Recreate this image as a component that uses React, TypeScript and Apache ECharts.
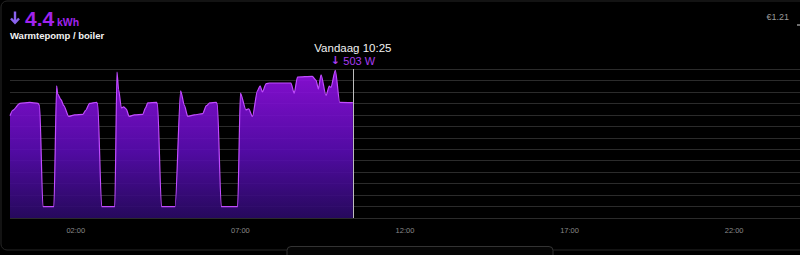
import React, { useEffect, useRef } from "react";
import * as echarts from "echarts";

// time in minutes since midnight
const times = [0, 5, 18, 36, 51, 54, 60, 80, 85, 87, 93, 98, 107, 118, 133, 138, 145, 158, 160, 167, 191, 195, 198, 203, 207, 212, 217, 227, 242, 247, 251, 267, 269, 276, 301, 311, 318, 324, 336, 351, 358, 364, 376, 378, 385, 415, 420, 430, 435, 442, 451, 456, 460, 467, 473, 512, 518, 524, 551, 558, 562, 567, 576, 582, 585, 593, 601, 625];
// power in W
const values = [446, 470, 500, 504, 500, 490, 50, 50, 577, 540, 516, 490, 443, 450, 452, 470, 500, 505, 495, 50, 50, 637, 560, 480, 485, 475, 443, 450, 452, 480, 502, 504, 495, 50, 50, 555, 490, 443, 450, 455, 490, 502, 505, 495, 50, 50, 545, 472, 476, 443, 555, 577, 550, 586, 589, 589, 545, 615, 618, 600, 563, 625, 534, 575, 570, 644, 504, 503];
const xTickLabels = [120, 420, 720, 1020, 1320];

const totalLabel = "4.4";
const unitLabel = "kWh";
const titleLabel = "Warmtepomp / boiler";
const costLabel = "€1.21";
const markerTime = 625;
const markerTitle = "Vandaag 10:25";
const markerValue = "503 W";

const fmt = (m: number) => {
  const h = Math.floor(m / 60);
  const mm = m % 60;
  return String(h).padStart(2, "0") + ":" + String(mm).padStart(2, "0");
};

export default function App() {
  const ref = useRef<HTMLDivElement>(null);
  useEffect(() => {
    const chart = echarts.init(ref.current!, null, { renderer: "svg" });
    const font = "'Liberation Sans', Arial, sans-serif";
    chart.setOption({
      animation: false,
      backgroundColor: "#000",
      grid: { left: 10, top: 69, width: 792, height: 149 },
      xAxis: {
        type: "value",
        min: 0,
        max: 1440,
        axisLine: { show: false },
        axisTick: { show: false },
        splitLine: { show: false },
        axisLabel: {
          customValues: xTickLabels,
          formatter: (v: number) => fmt(v),
          color: "#8a8a8a",
          fontSize: 7.5,
          fontFamily: font,
          margin: 8,
        },
      },
      yAxis: {
        type: "value",
        min: 0,
        max: 650,
        interval: 50,
        axisLabel: { show: false },
        axisLine: { show: false },
        axisTick: { show: false },
        splitLine: { lineStyle: { color: "#2b2b2b", width: 1 } },
      },
      series: [
        {
          type: "line",
          data: times.map((t, i) => [t, values[i]]),
          showSymbol: false,
          smooth: 0.25,
          smoothMonotone: "x",
          lineStyle: { color: "#c14cff", width: 1.2 },
          areaStyle: {
            opacity: 0.9,
            color: new echarts.graphic.LinearGradient(0, 0, 0, 1, [
              { offset: 0, color: "#9410e6" },
              { offset: 0.55, color: "#5a0cb4" },
              { offset: 1, color: "#2a0a66" },
            ]),
          },
          markLine: {
            silent: true,
            symbol: "none",
            lineStyle: { color: "#bdbdbd", type: "solid", width: 1 },
            data: [{ xAxis: markerTime }],
            label: {
              show: true,
              position: "end",
              distance: 2,
              formatter: "{a|" + markerTitle + "}\n{c|↓} {b|" + markerValue + "}",
              rich: {
                a: { color: "#f2f2f2", fontSize: 11.5, fontFamily: font, lineHeight: 13 },
                b: { color: "#a93cf0", fontSize: 11, fontFamily: font, lineHeight: 13 },
                c: { color: "#a93cf0", fontSize: 11, fontWeight: "bold", fontFamily: "'DejaVu Sans', sans-serif", lineHeight: 13 },
              },
            },
          },
        },
      ],
      graphic: [
        {
          type: "rect",
          shape: { x: 1, y: 1, width: 815, height: 249, r: 6 },
          style: { fill: "none", stroke: "#262626", lineWidth: 1 },
          silent: true,
        },
        {
          type: "rect",
          shape: { x: 287, y: 246.5, width: 266, height: 20, r: 4 },
          style: { fill: "#050505", stroke: "#333", lineWidth: 1 },
          silent: true,
        },
        {
          type: "polyline",
          shape: { points: [[15, 11.5], [15, 22.5]] },
          style: { stroke: "#8a63ee", lineWidth: 2.4, fill: "none" },
        },
        {
          type: "polyline",
          shape: { points: [[11, 18.5], [15, 22.8], [19, 18.5]] },
          style: { stroke: "#8a63ee", lineWidth: 2.4, fill: "none", lineJoin: "miter" },
        },
        {
          type: "text",
          x: 25,
          y: 29,
          style: { text: totalLabel, fill: "#a023ee", font: "bold 21px " + font, verticalAlign: "bottom" },
        },
        {
          type: "text",
          x: 57,
          y: 27.5,
          style: { text: unitLabel, fill: "#a023ee", font: "bold 10.5px " + font, verticalAlign: "bottom" },
        },
        {
          type: "text",
          x: 10,
          y: 35,
          style: { text: titleLabel, fill: "#f2f2f2", font: "bold 9.5px " + font, verticalAlign: "middle" },
        },
        {
          type: "text",
          x: 789,
          y: 17,
          style: { text: costLabel, fill: "#9a9a9a", font: "9px " + font, align: "right", verticalAlign: "middle" },
        },
        {
          type: "rect",
          shape: { x: 797, y: 24.5, width: 3, height: 1 },
          style: { fill: "#dddddd" },
        },
      ],
    });
    return () => chart.dispose();
  }, []);
  return (
    <div
      ref={ref}
      style={{ position: "fixed", left: 0, top: 0, width: 800, height: 255, background: "#000" }}
    />
  );
}
